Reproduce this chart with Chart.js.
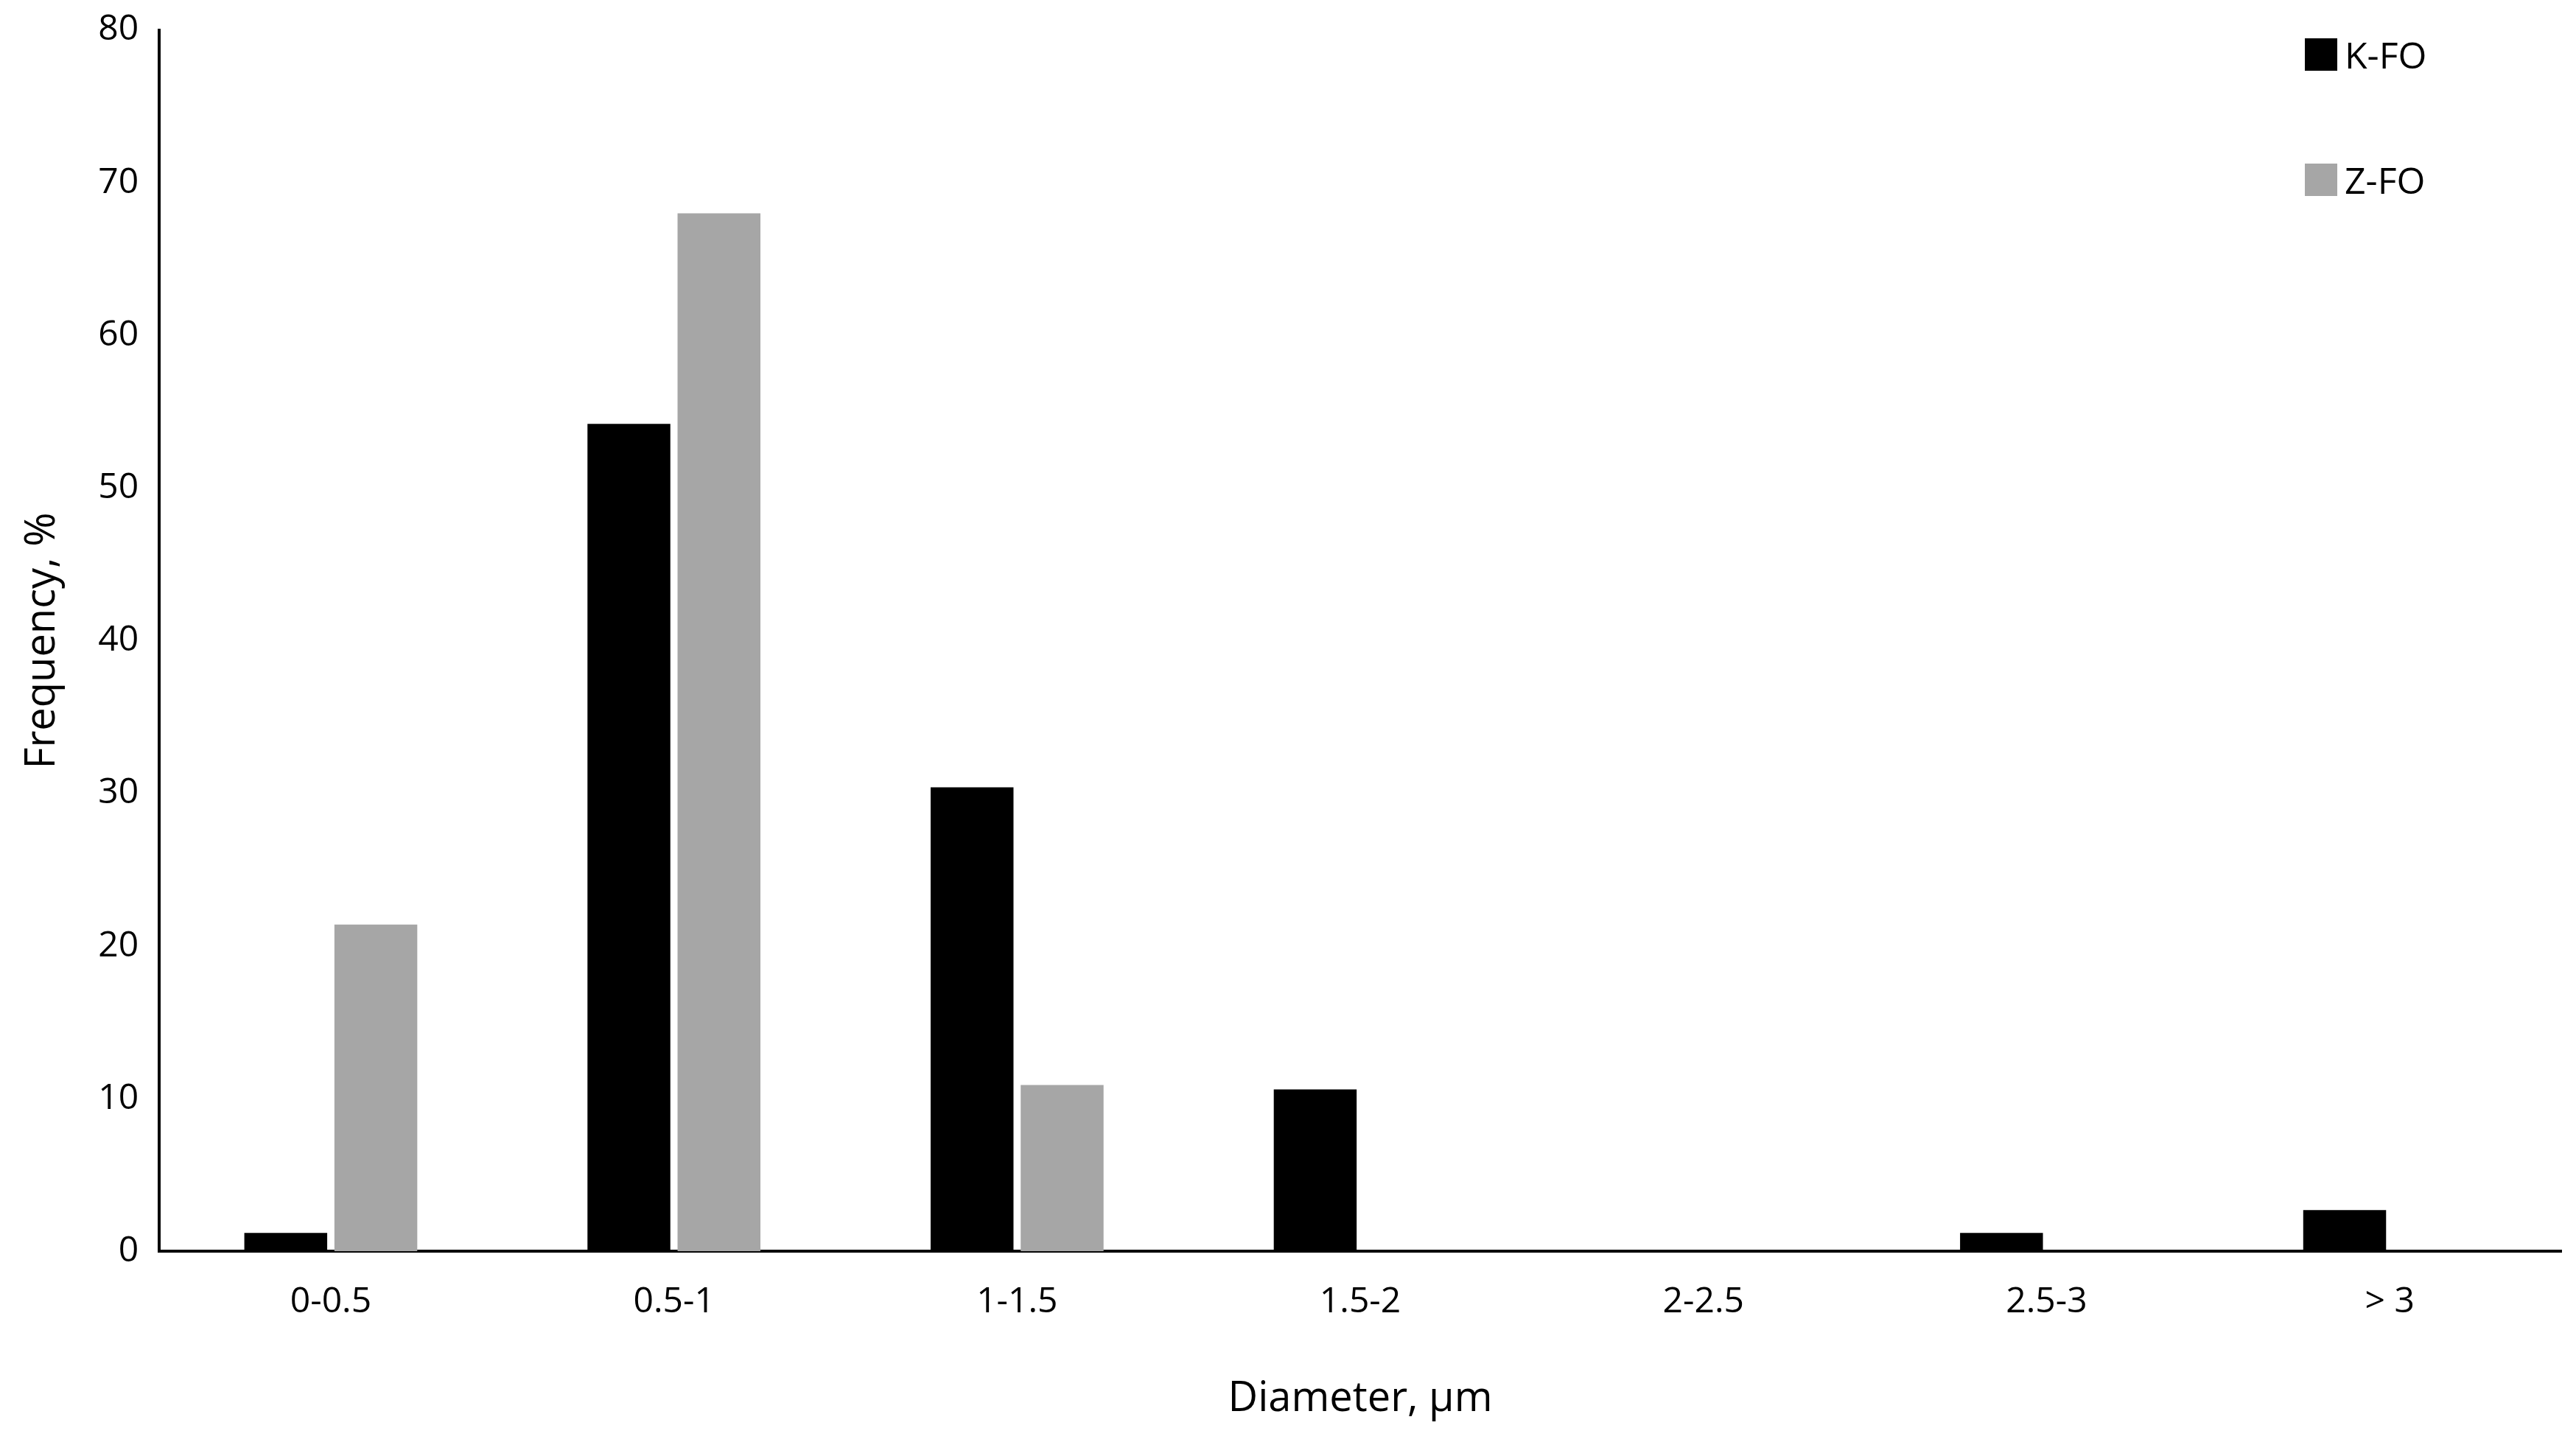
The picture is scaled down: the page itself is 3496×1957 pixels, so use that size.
<!DOCTYPE html>
<html>
<head>
<meta charset="utf-8">
<script src="https://cdn.jsdelivr.net/npm/chart.js@4"></script>
<style>
  body { margin: 0; background: #fff; }
  #wrap { position: relative; width: 3496px; height: 1957px; }
  .leg { position: absolute; font-family: "Open Sans", sans-serif; font-size: 50px; color: #000; display: flex; align-items: center; }
  .leg span.box { display: inline-block; width: 44px; height: 44px; margin-right: 10px; }
</style>
</head>
<body>
<div id="wrap">
  <canvas id="c" width="3496" height="1957"></canvas>
  <div class="leg" style="left:3128px; top:40px;"><span class="box" style="background:#000"></span>K-FO</div>
  <div class="leg" style="left:3128px; top:210px;"><span class="box" style="background:#a6a6a6"></span>Z-FO</div>
</div>
<script>
// categories and series
const categories = ["0-0.5", "0.5-1", "1-1.5", "1.5-2", "2-2.5", "2.5-3", "> 3"];
const kfo = [1.2, 54.2, 30.4, 10.6, 0, 1.2, 2.7];
const zfo = [21.4, 68, 10.9, 0, 0, 0, 0];

const font = { family: "Open Sans", size: 48 };

new Chart(document.getElementById('c').getContext('2d'), {
    type: 'bar',
    data: {
        labels: categories,
        datasets: [
            { label: 'K-FO', data: kfo, backgroundColor: '#000000' },
            { label: 'Z-FO', data: zfo, backgroundColor: '#a6a6a6' }
        ]
    },
    options: {
        responsive: false,
        devicePixelRatio: 1,
        animation: false,
        categoryPercentage: 0.525,
        barPercentage: 0.92,
        layout: { padding: { left: 20, right: 20, top: 30, bottom: 20 } },
        plugins: { legend: { display: false }, tooltip: { enabled: false } },
        scales: {
            x: {
                grid: { display: false, drawTicks: false },
                border: { color: '#000', width: 4 },
                ticks: { color: '#000', font: font, padding: 40 },
                title: { display: true, text: 'Diameter, µm', color: '#000', font: { family: "Open Sans", size: 56 }, padding: { top: 30 } }
            },
            y: {
                min: 0, max: 80,
                grid: { display: false, drawTicks: true, tickLength: 16, tickColor: '#000', tickWidth: 4 },
                border: { color: '#000', width: 4 },
                ticks: { stepSize: 10, color: '#000', font: font, padding: 12 },
                title: { display: true, text: 'Frequency, %', color: '#000', font: { family: "Open Sans", size: 56 }, padding: { bottom: 30 } }
            }
        }
    }
});
</script>
</body>
</html>
